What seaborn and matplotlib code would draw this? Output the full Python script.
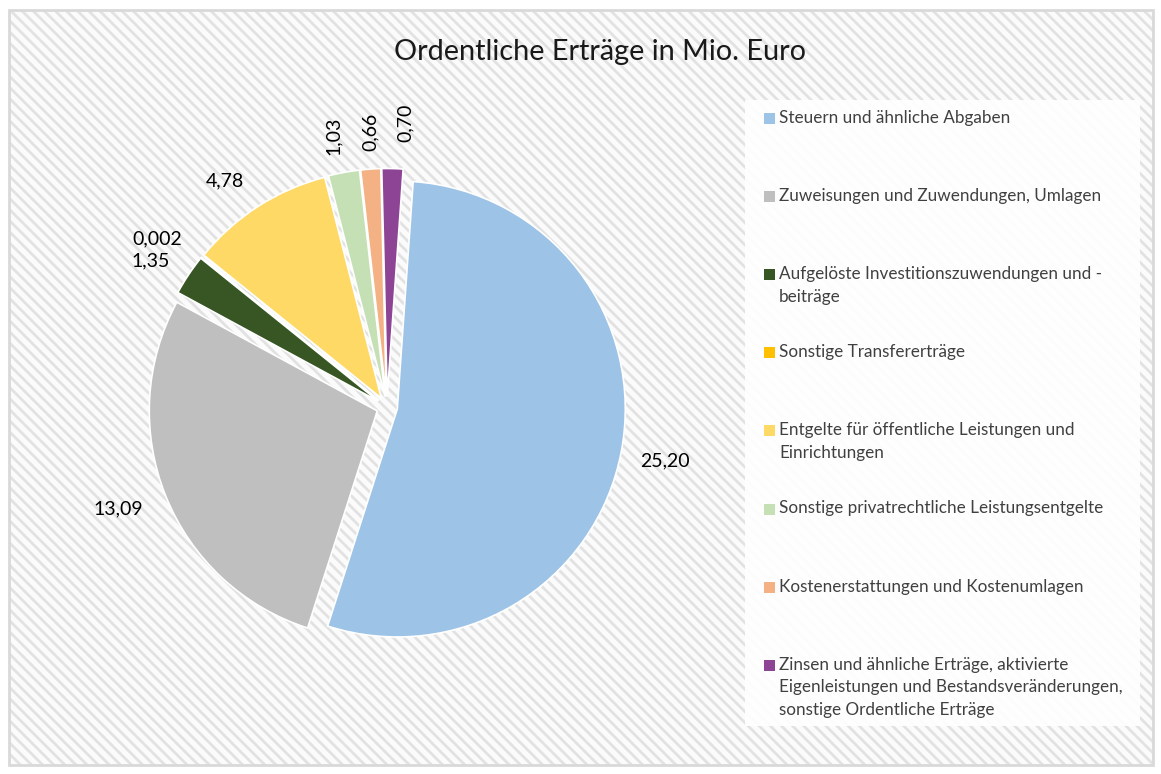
import numpy as np
import matplotlib
matplotlib.use("Agg")
import matplotlib.pyplot as plt
import seaborn as sns
from matplotlib.patches import Rectangle

# Data
categories = [
    "Steuern und ähnliche Abgaben",
    "Zuweisungen und Zuwendungen, Umlagen",
    "Aufgelöste Investitionszuwendungen und -\nbeiträge",
    "Sonstige Transfererträge",
    "Entgelte für öffentliche Leistungen und\nEinrichtungen",
    "Sonstige privatrechtliche Leistungsentgelte",
    "Kostenerstattungen und Kostenumlagen",
    "Zinsen und ähnliche Erträge, aktivierte\nEigenleistungen und Bestandsveränderungen,\nsonstige Ordentliche Erträge",
]
values = [25.20, 13.09, 1.35, 0.002, 4.78, 1.03, 0.66, 0.70]
value_labels = ["25,20", "13,09", "1,35", "0,002", "4,78", "1,03", "0,66", "0,70"]
colors = ["#9DC3E6", "#BFBFBF", "#375623", "#FFC000", "#FFD966", "#C5E0B4", "#F4B183", "#8E4494"]

# label placement tweaks (angle nudge in deg, distance, rotation)
lab_nudge = [0, -1, 2, 2.6, 3, 0.7, -0.4, -2.3]
lab_dist = [1.24, 1.26, 1.22, 1.25, 1.22, 1.21, 1.21, 1.25]
lab_rot = [0, 0, 0, 0, 0, 90, 90, 90]

sns.set_theme(style="white")
plt.rcParams["font.family"] = ["Lato", "DejaVu Sans"]
plt.rcParams["hatch.linewidth"] = 2.0

W, H = 1161, 774
fig = plt.figure(figsize=(W / 100, H / 100), dpi=100)
fig.patch.set_facecolor("white")

# hatched background inside light grey frame
bg = Rectangle((9 / W, 1 - 765 / H), (1153 - 9) / W, (765 - 10) / H, transform=fig.transFigure,
               facecolor="#fbfbfb", edgecolor="#e2e2e2", hatch="\\\\\\", linewidth=0, zorder=0)
fig.add_artist(bg)
frame = Rectangle((9 / W, 1 - 765 / H), (1153 - 9) / W, (765 - 10) / H, transform=fig.transFigure,
                  facecolor="none", edgecolor="#d9d9d9", linewidth=2, zorder=1)
fig.add_artist(frame)

# pie axes
cx, cy, r = 387, 407, 228
L = 1.3
ax = fig.add_axes([(cx - L * r) / W, (H - cy - L * r) / H, 2 * L * r / W, 2 * L * r / H])
ax.set_facecolor("none")
wedges, _ = ax.pie(values, colors=colors, startangle=86, counterclock=False,
                   explode=[0.046] * len(values),
                   wedgeprops=dict(edgecolor="white", linewidth=1.2))
ax.set_xlim(-L, L)
ax.set_ylim(-L, L)
ax.set_aspect("equal")
ax.axis("off")

for w, lab, dn, d, rot in zip(wedges, value_labels, lab_nudge, lab_dist, lab_rot):
    ang = np.deg2rad((w.theta1 + w.theta2) / 2 + dn)
    ax.text(d * np.cos(ang), d * np.sin(ang), lab, ha="center", va="center",
            rotation=rot, fontsize=14, color="#000000")

# title
fig.text(600 / W, 1 - 52 / H, "Ordentliche Erträge in Mio. Euro", ha="center", va="center",
         fontsize=20.8, color="#1a1a1a")

# legend box
fig.add_artist(Rectangle((745 / W, 1 - 726 / H), 395 / W, 626 / H, transform=fig.transFigure,
                         facecolor="white", edgecolor="none", alpha=0.9, zorder=2))
for i, (cat, col) in enumerate(zip(categories, colors)):
    y0 = 118 + 78.1 * i
    fig.add_artist(Rectangle((764 / W, 1 - (y0 + 6) / H), 11 / W, 11 / H, transform=fig.transFigure,
                             facecolor=col, edgecolor="none", zorder=3))
    for j, line in enumerate(cat.split("\n")):
        fig.text(779 / W, 1 - (y0 + 22.7 * j) / H, line, ha="left", va="center",
                 fontsize=12.3, color="#404040", zorder=4)

fig.savefig("out.png", dpi=100)
